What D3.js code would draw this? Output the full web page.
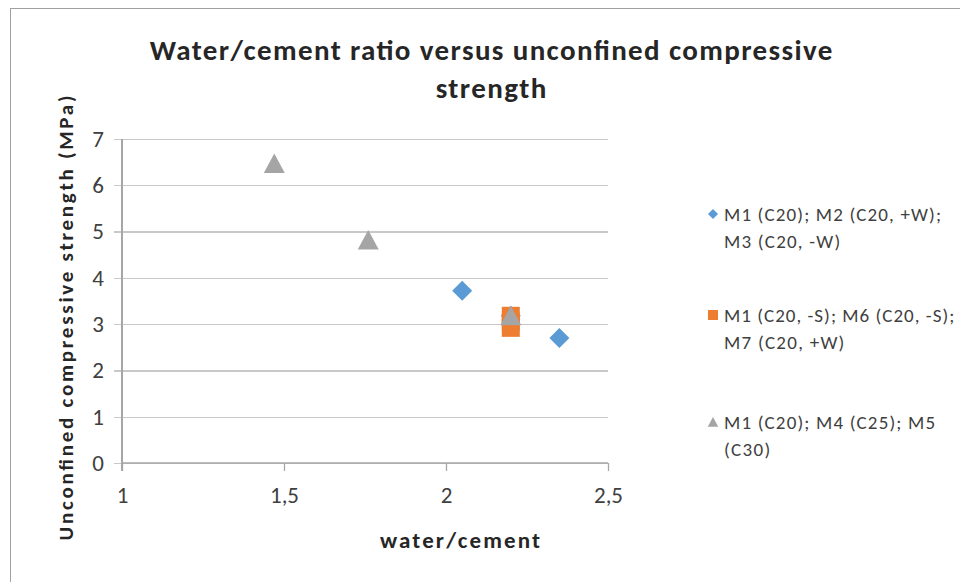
<!DOCTYPE html>
<html>
<head>
<meta charset="utf-8">
<script src="https://cdn.jsdelivr.net/npm/d3@7"></script>
<style>
  html, body { margin: 0; padding: 0; background: #fff; }
  svg { display: block; }
  text { font-family: Carlito, Calibri, Lato, "Open Sans", sans-serif; fill: #262626; }
</style>
</head>
<body>
<svg id="chart" width="960" height="582"></svg>
<script>
// Water/cement ratio and unconfined compressive strength (MPa) per mix group
const blueX = [2.2, 2.05, 2.35];
const blueY = [3.18, 3.72, 2.70];
const orangeX = [2.2, 2.2, 2.2];
const orangeY = [3.18, 3.05, 2.92];
const greyX = [2.2, 1.47, 1.76];
const greyY = [3.18, 6.47, 4.82];

const seriesNames = [
  ["M1 (C20); M2 (C20, +W);", "M3 (C20, -W)"],
  ["M1 (C20, -S); M6 (C20, -S);", "M7 (C20, +W)"],
  ["M1 (C20); M4 (C25); M5", "(C30)"]
];
const seriesColors = ["#5b9bd5", "#ed7d31", "#a5a5a5"];
const seriesShapes = ["diamond", "square", "triangle"];

const xTicks = [1, 1.5, 2, 2.5];
const xTickLabels = ["1", "1,5", "2", "2,5"];
const yTicks = [0, 1, 2, 3, 4, 5, 6, 7];

const titleLines = ["Water/cement ratio versus unconfined  compressive", "strength"];
const xTitle = "water/cement";
const yTitle = "Unconfined compressive strength (MPa)";

const svg = d3.select("#chart");

// chart frame
svg.append("rect")
  .attr("x", 10.5).attr("y", 8.5)
  .attr("width", 960).attr("height", 600)
  .attr("fill", "#fff").attr("stroke", "#a0a0a0").attr("stroke-width", 1);

const plot = { left: 122, right: 608, top: 139, bottom: 463 };
const x = d3.scaleLinear().domain([1, 2.5]).range([plot.left, plot.right]);
const y = d3.scaleLinear().domain([0, 7]).range([plot.bottom, plot.top]);

// horizontal gridlines with left tick stubs
const yAxis = d3.axisLeft(y).tickValues(yTicks).tickSize(-(plot.right - plot.left)).tickFormat(d => d).tickPadding(18);
const gy = svg.append("g").attr("transform", `translate(${plot.left},0)`).call(yAxis);
gy.select(".domain").remove();
gy.selectAll(".tick line").attr("stroke", "#c8c8c8").attr("stroke-width", 1.3).attr("x1", -8).attr("shape-rendering", "crispEdges");
gy.selectAll(".tick text").attr("font-size", 23).style("fill", "#404040");

// vertical axis line
svg.append("line")
  .attr("x1", plot.left).attr("x2", plot.left)
  .attr("y1", plot.top).attr("y2", plot.bottom + 8)
  .attr("stroke", "#a6a6a6").attr("stroke-width", 1.3).attr("shape-rendering", "crispEdges");

// horizontal axis
const xAxis = d3.axisBottom(x).tickValues(xTicks).tickSize(8).tickFormat((d, i) => xTickLabels[i]).tickPadding(16);
const gx = svg.append("g").attr("transform", `translate(0,${plot.bottom})`).call(xAxis);
gx.select(".domain").attr("stroke", "#a6a6a6").attr("stroke-width", 1.3).attr("d", `M${plot.left},0H${plot.right}`);
gx.selectAll(".tick line").attr("stroke", "#a6a6a6").attr("stroke-width", 1.3);
gx.selectAll(".tick text").attr("font-size", 23).style("fill", "#404040");

// marker shapes
function markerPath(shape, s) {
  if (shape === "diamond") return `M0,${-s}L${s},0L0,${s}L${-s},0Z`;
  if (shape === "square") return `M${-s},${-s}H${s}V${s}H${-s}Z`;
  return `M0,${-s}L${s * 1.05},${s * 0.95}L${-s * 1.05},${s * 0.95}Z`;
}

const series = [
  { xs: blueX, ys: blueY },
  { xs: orangeX, ys: orangeY },
  { xs: greyX, ys: greyY }
];
const markerSize = [10, 9, 10];

series.forEach((s, k) => {
  svg.append("g").selectAll("path")
    .data(s.xs.map((v, i) => [v, s.ys[i]]))
    .join("path")
    .attr("transform", d => `translate(${x(d[0])},${y(d[1])})`)
    .attr("d", markerPath(seriesShapes[k], markerSize[k]))
    .attr("fill", seriesColors[k]);
});

// legend (text widened slightly to suit the wide legend column)
const legendY = [214, 315, 422];
const legend = svg.append("g");
seriesNames.forEach((lines, k) => {
  const g = legend.append("g").attr("transform", `translate(713,${legendY[k]})`);
  g.append("path").attr("d", markerPath(seriesShapes[k], 5)).attr("fill", seriesColors[k]);
  lines.forEach((t, j) => {
    const txt = g.append("text").attr("x", 11).attr("y", j * 27).attr("dy", "0.35em")
      .attr("font-size", 19).style("fill", "#404040").text(t);
    const w = txt.node().getComputedTextLength();
    txt.attr("textLength", w * 1.13).attr("lengthAdjust", "spacing");
  });
});

// titles
svg.append("g").selectAll("text").data(titleLines).join("text")
  .attr("x", 491).attr("y", (d, i) => 50 + i * 38).attr("dy", "0.35em")
  .attr("text-anchor", "middle").attr("font-size", 29).attr("font-weight", "bold")
  .each(function (d) {
    const t = d3.select(this).text(d);
    const w = this.getComputedTextLength();
    t.attr("textLength", w * 1.1).attr("lengthAdjust", "spacing");
  });

svg.append("text")
  .attr("x", 460).attr("y", 540).attr("dy", "0.35em")
  .attr("text-anchor", "middle").attr("font-size", 23).attr("font-weight", "bold")
  .attr("textLength", 160).attr("lengthAdjust", "spacing")
  .text(xTitle);

svg.append("text")
  .attr("transform", "translate(66,318) rotate(-90)")
  .attr("dy", "0.35em")
  .attr("text-anchor", "middle").attr("font-size", 21).attr("font-weight", "bold")
  .attr("textLength", 445).attr("lengthAdjust", "spacing")
  .text(yTitle);
</script>
</body>
</html>
